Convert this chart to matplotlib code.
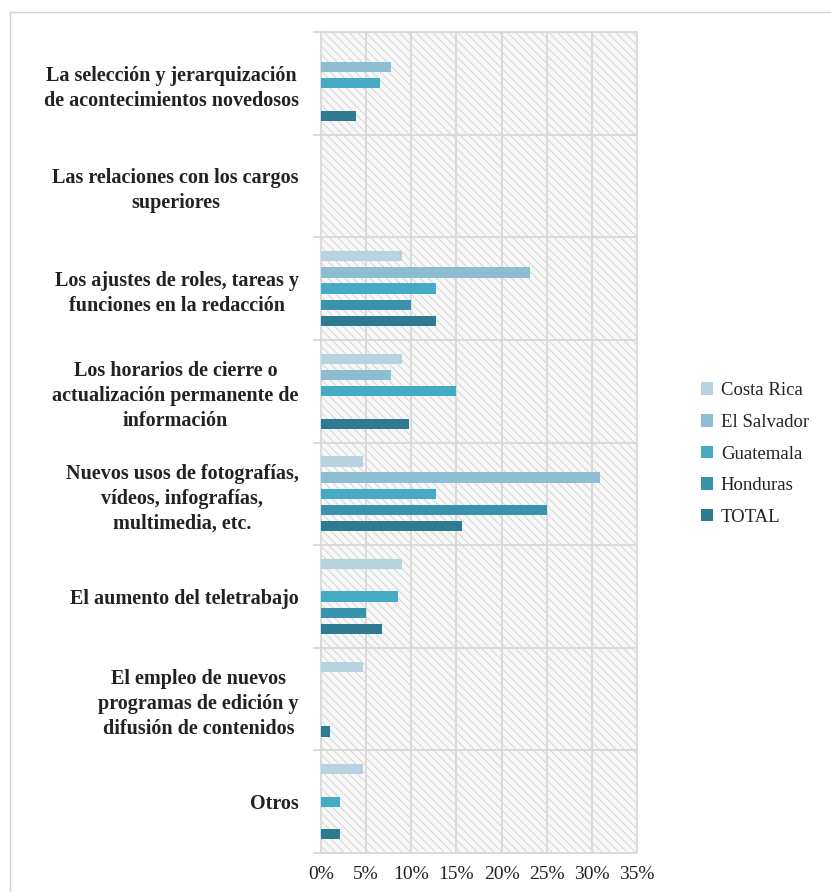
import numpy as np
import matplotlib
matplotlib.use("Agg")
import matplotlib.pyplot as plt
from matplotlib.patches import Rectangle
from matplotlib.lines import Line2D

categories = [
    "La selección y jerarquización\nde acontecimientos novedosos",
    "Las relaciones con los cargos\nsuperiores",
    "Los ajustes de roles, tareas y\nfunciones en la redacción",
    "Los horarios de cierre o\nactualización permanente de\ninformación",
    "Nuevos usos de fotografías,\nvídeos, infografías,\nmultimedia, etc.",
    "El aumento del teletrabajo",
    "El empleo de nuevos\nprogramas de edición y\ndifusión de contenidos",
    "Otros",
]
series = ["Costa Rica", "El Salvador", "Guatemala", "Honduras", "TOTAL"]

costa_rica = [0, 0, 9.0, 9.0, 4.7, 9.0, 4.6, 4.6]
el_salvador = [7.8, 0, 23.2, 7.8, 30.9, 0, 0, 0]
guatemala = [6.5, 0, 12.7, 14.9, 12.7, 8.5, 0, 2.1]
honduras = [0, 0, 10.0, 0, 25.0, 5.0, 0, 0]
total = [3.9, 0, 12.7, 9.8, 15.6, 6.8, 1.0, 2.1]

values = [costa_rica, el_salvador, guatemala, honduras, total]
colors = ["#b8d3e0", "#8cbdd1", "#45aac4", "#3a93ac", "#2d7a91"]
xticks = [0, 5, 10, 15, 20, 25, 30, 35]

plt.rcParams["hatch.linewidth"] = 0.6

fig = plt.figure(figsize=(8.31, 8.92), dpi=100)
ax = fig.add_axes([0.3863, 0.0437, 0.3802, 0.9204])

grid_col = "#d9d9d9"
ax.set_facecolor("#f7f7f7")
# diagonal hatch over the whole plot area
ax.add_patch(Rectangle((0, 0), 1, 1, transform=ax.transAxes, facecolor="none",
                       edgecolor="#d0d0d0", linewidth=0, hatch="\\\\\\\\",
                       zorder=0))

n = len(categories)
y = np.arange(n)
step = 0.158
height = 0.1
for i, (name, vals, c) in enumerate(zip(series, values, colors)):
    offset = (i - 2) * step
    ax.barh(y + offset, vals, height=height, color=c, label=name, zorder=3)

ax.set_xlim(0, 35)
ax.set_ylim(n - 0.5, -0.5)
ax.set_xticks(xticks)
ax.set_xticklabels([f"{t}%" for t in xticks], family="Liberation Serif",
                   fontsize=14, color="#222222")
ax.set_yticks(y)
ax.set_yticklabels(categories, family="Liberation Serif", fontweight="bold",
                   fontsize=14.5, color="#222222", ha="right",
                   multialignment="center", linespacing=1.33)

for x in xticks:
    ax.axvline(x, color=grid_col, lw=1.3, zorder=1)
for b in np.arange(n + 1) - 0.5:
    ax.axhline(b, color=grid_col, lw=1.3, zorder=1)

ax.set_yticks(np.arange(n + 1) - 0.5, minor=True)
ax.tick_params(axis="y", which="major", length=0, pad=16)
ax.tick_params(axis="y", which="minor", length=6, color=grid_col, width=1.3)
ax.tick_params(axis="x", length=0, pad=9)
for s in ax.spines.values():
    s.set_color(grid_col)
    s.set_linewidth(1.3)

leg = ax.legend(loc="center left", bbox_to_anchor=(1.15, 0.486), frameon=False,
                prop={"family": "Liberation Serif", "size": 13.5},
                handlelength=0.65, handleheight=0.65, handletextpad=0.4,
                labelspacing=0.78)
for t in leg.get_texts():
    t.set_color("#222222")

fig.add_artist(Line2D([0.012, 1.0], [1 - 12 / 892, 1 - 12 / 892],
                      transform=fig.transFigure, color="#d0d0d0", lw=1))
fig.add_artist(Line2D([0.012, 0.012], [0.0, 1 - 12 / 892],
                      transform=fig.transFigure, color="#d0d0d0", lw=1))

fig.savefig("out.png", dpi=100)
